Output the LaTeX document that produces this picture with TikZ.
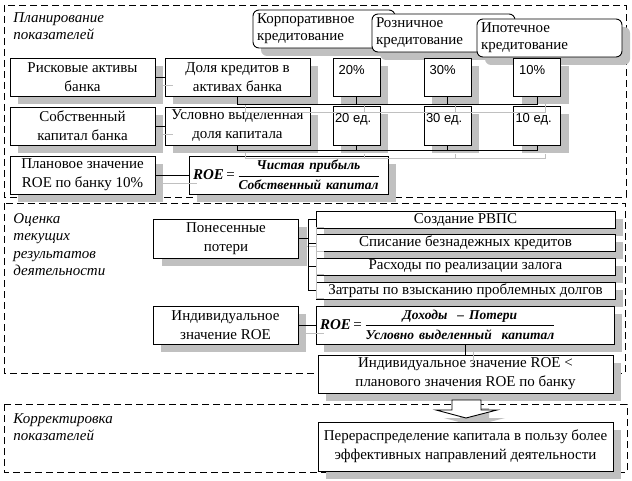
\documentclass[tikz,border=0pt]{standalone}
\usepackage{amsmath}
\usepackage{fontspec}
\setmainfont{Liberation Serif}
\setsansfont{Liberation Sans}
\usetikzlibrary{shadows}
\definecolor{shadowgray}{HTML}{C0C0C0}

\newcommand\roefrac[2]{{\fontsize{15}{17}\selectfont\bfseries\itshape ROE}\,=\,$\genfrac{}{}{0.9pt}{0}%
  {\text{\fontsize{13.5}{15}\selectfont\bfseries\itshape #1}}%
  {\text{\fontsize{13.5}{15}\selectfont\bfseries\itshape #2}}$}

\tikzset{
  sh/.style={drop shadow={shadow xshift=8pt,shadow yshift=-8pt,fill=shadowgray,opacity=1}},
  zone/.style={draw,dash pattern=on 7pt off 4pt},
  zonetitle/.style={anchor=north west,inner sep=0pt,align=left,font=\fontsize{15}{17.5}\selectfont\itshape},
  box/.style={draw,fill=white,sh,align=center,inner sep=1pt,minimum width=145pt,minimum height=38pt},
  call/.style={draw,fill=white,sh,rounded corners=6pt,minimum height=38pt,text width=#1,align=left,inner xsep=4pt,font=\fontsize{15}{17}\selectfont},
  pct/.style={draw,fill=white,sh,minimum width=47pt,minimum height=38pt,inner sep=0pt},
  pcttext/.style={anchor=north west,inner xsep=2pt,inner ysep=7pt,font=\fontsize{13}{15}\selectfont\sffamily},
  item/.style={draw,fill=white,sh,minimum width=299pt,minimum height=17pt,inner sep=0pt},
  roe/.style={draw,fill=white,sh,minimum height=38pt,text width=#1,align=left,inner xsep=4pt,inner ysep=0pt}
}

% connectors, drawn twice: shadow and line
\newcommand\links{%
  \draw (risk) -- (share);
  \draw (equity) -- (alloc);
  \draw (plan) -- (roeA);
  \draw (share.south) |- (tA -| p10.south) -- (p10.south);
  \foreach \n in {p20,p30} \draw (\n.south) -- (\n.south |- tA);
  \draw (alloc.south) |- (tB -| u10.south) -- (u10.south);
  \foreach \n in {u20,u30} \draw (\n.south) -- (\n.south |- tB);
  \foreach \n in {s1,s2,s3,s4} \draw (loss.east) -- ++(9,0) |- (\n.west);
  \draw (indiv) -- (roeB);
  \draw (roeB.south) -- (roeB.south |- cmp.north);
}

\begin{document}
\begin{tikzpicture}[x=1pt,y=-1pt,line width=.9pt,font=\fontsize{15}{19}\selectfont]
\useasboundingbox (0,0) rectangle (632,481);

% three stages
\draw[zone] (4,5) rectangle (626,197);
\draw[zone] (4,203) rectangle (625,373);
\draw[zone] (4,404) rectangle (627,472);
\node[zonetitle] (tPlan) at (13,12) {Планирование\\показателей};
\node[zonetitle] (tEval) at (13,213) {Оценка\\текущих\\результатов\\деятельности};
\node[zonetitle] (tCorr) at (13,413) {Корректировка\\показателей};

% planning
\node[call=134pt] (corp) at (324,29) {Корпоративное\\кредитование};
\node[call=135pt] (retail) at (443.5,33) {Розничное\\кредитование};
\node[call=137pt] (mortg) at (549.5,38) {Ипотечное\\кредитование};

\node[box] (risk) at (82.5,77) {Рисковые активы\\банка};
\node[box] (share) at (237.5,77) {Доля кредитов в\\активах банка};
\node[box] (equity) at (82.5,126) {Собственный\\капитал банка};
\node[box] (alloc) at (237.5,126) {Условно выделенная\\доля капитала};
\node[box] (plan) at (82.5,175) {Плановое значение\\ROE по банку 10\%};
\node[roe=191pt] (roeA) at (288.5,175) {\roefrac{Чистая прибыль}{Собственный капитал}};

\node[pct,label={[pcttext]north west:\ 20\%}] (p20) at (356.5,77) {};
\node[pct,label={[pcttext]north west:\ 30\%}] (p30) at (447.5,77) {};
\node[pct,label={[pcttext]north west:\ 10\%}] (p10) at (537,77) {};
\node[pct,minimum height=39pt,label={[pcttext]north west:20 ед.}] (u20) at (356.5,126) {};
\node[pct,minimum height=39pt,label={[pcttext]north west:30 ед.}] (u30) at (447.5,126) {};
\node[pct,minimum height=39pt,label={[pcttext]north west:10 ед.}] (u10) at (537,126) {};
\coordinate (tA) at (0,104);
\coordinate (tB) at (0,150);

% evaluation
\node[box,minimum height=39pt] (loss) at (226,238.5) {Понесенные\\потери};
\node[item] (s1) at (465.5,219.5) {Создание РВПС};
\node[item] (s2) at (465.5,243) {Списание безнадежных кредитов};
\node[item] (s3) at (465.5,266.5) {Расходы по реализации залога};
\node[item] (s4) at (465.5,290.5) {Затраты по взысканию проблемных долгов};
\node[box] (indiv) at (225.5,325) {Индивидуальное\\значение ROE};
\node[roe=290pt] (roeB) at (465,325) {\roefrac{Доходы\ \ – Потери}{Условно выделенный\ \ капитал}};
\node[box,minimum width=295pt] (cmp) at (465.5,374) {Индивидуальное значение ROE <\\планового значения ROE по банку};

% correction
\fill[shadowgray,shift={(8,8)}] (452,400) -- (481,400) -- (481,410) -- (497,410) -- (466,418) -- (436,410) -- (452,410) -- cycle;
\draw[fill=white] (452,400) -- (481,400) -- (481,410) -- (497,410) -- (466,418) -- (436,410) -- (452,410) -- cycle;
\node[box,minimum width=295pt,minimum height=49pt] (redist) at (465.5,446.5) {Перераспределение капитала в пользу более\\эффективных направлений деятельности};

\begin{scope}[color=shadowgray,transform canvas={xshift=8pt,yshift=-8pt}]
\links
\end{scope}
\links
\end{tikzpicture}
\end{document}
